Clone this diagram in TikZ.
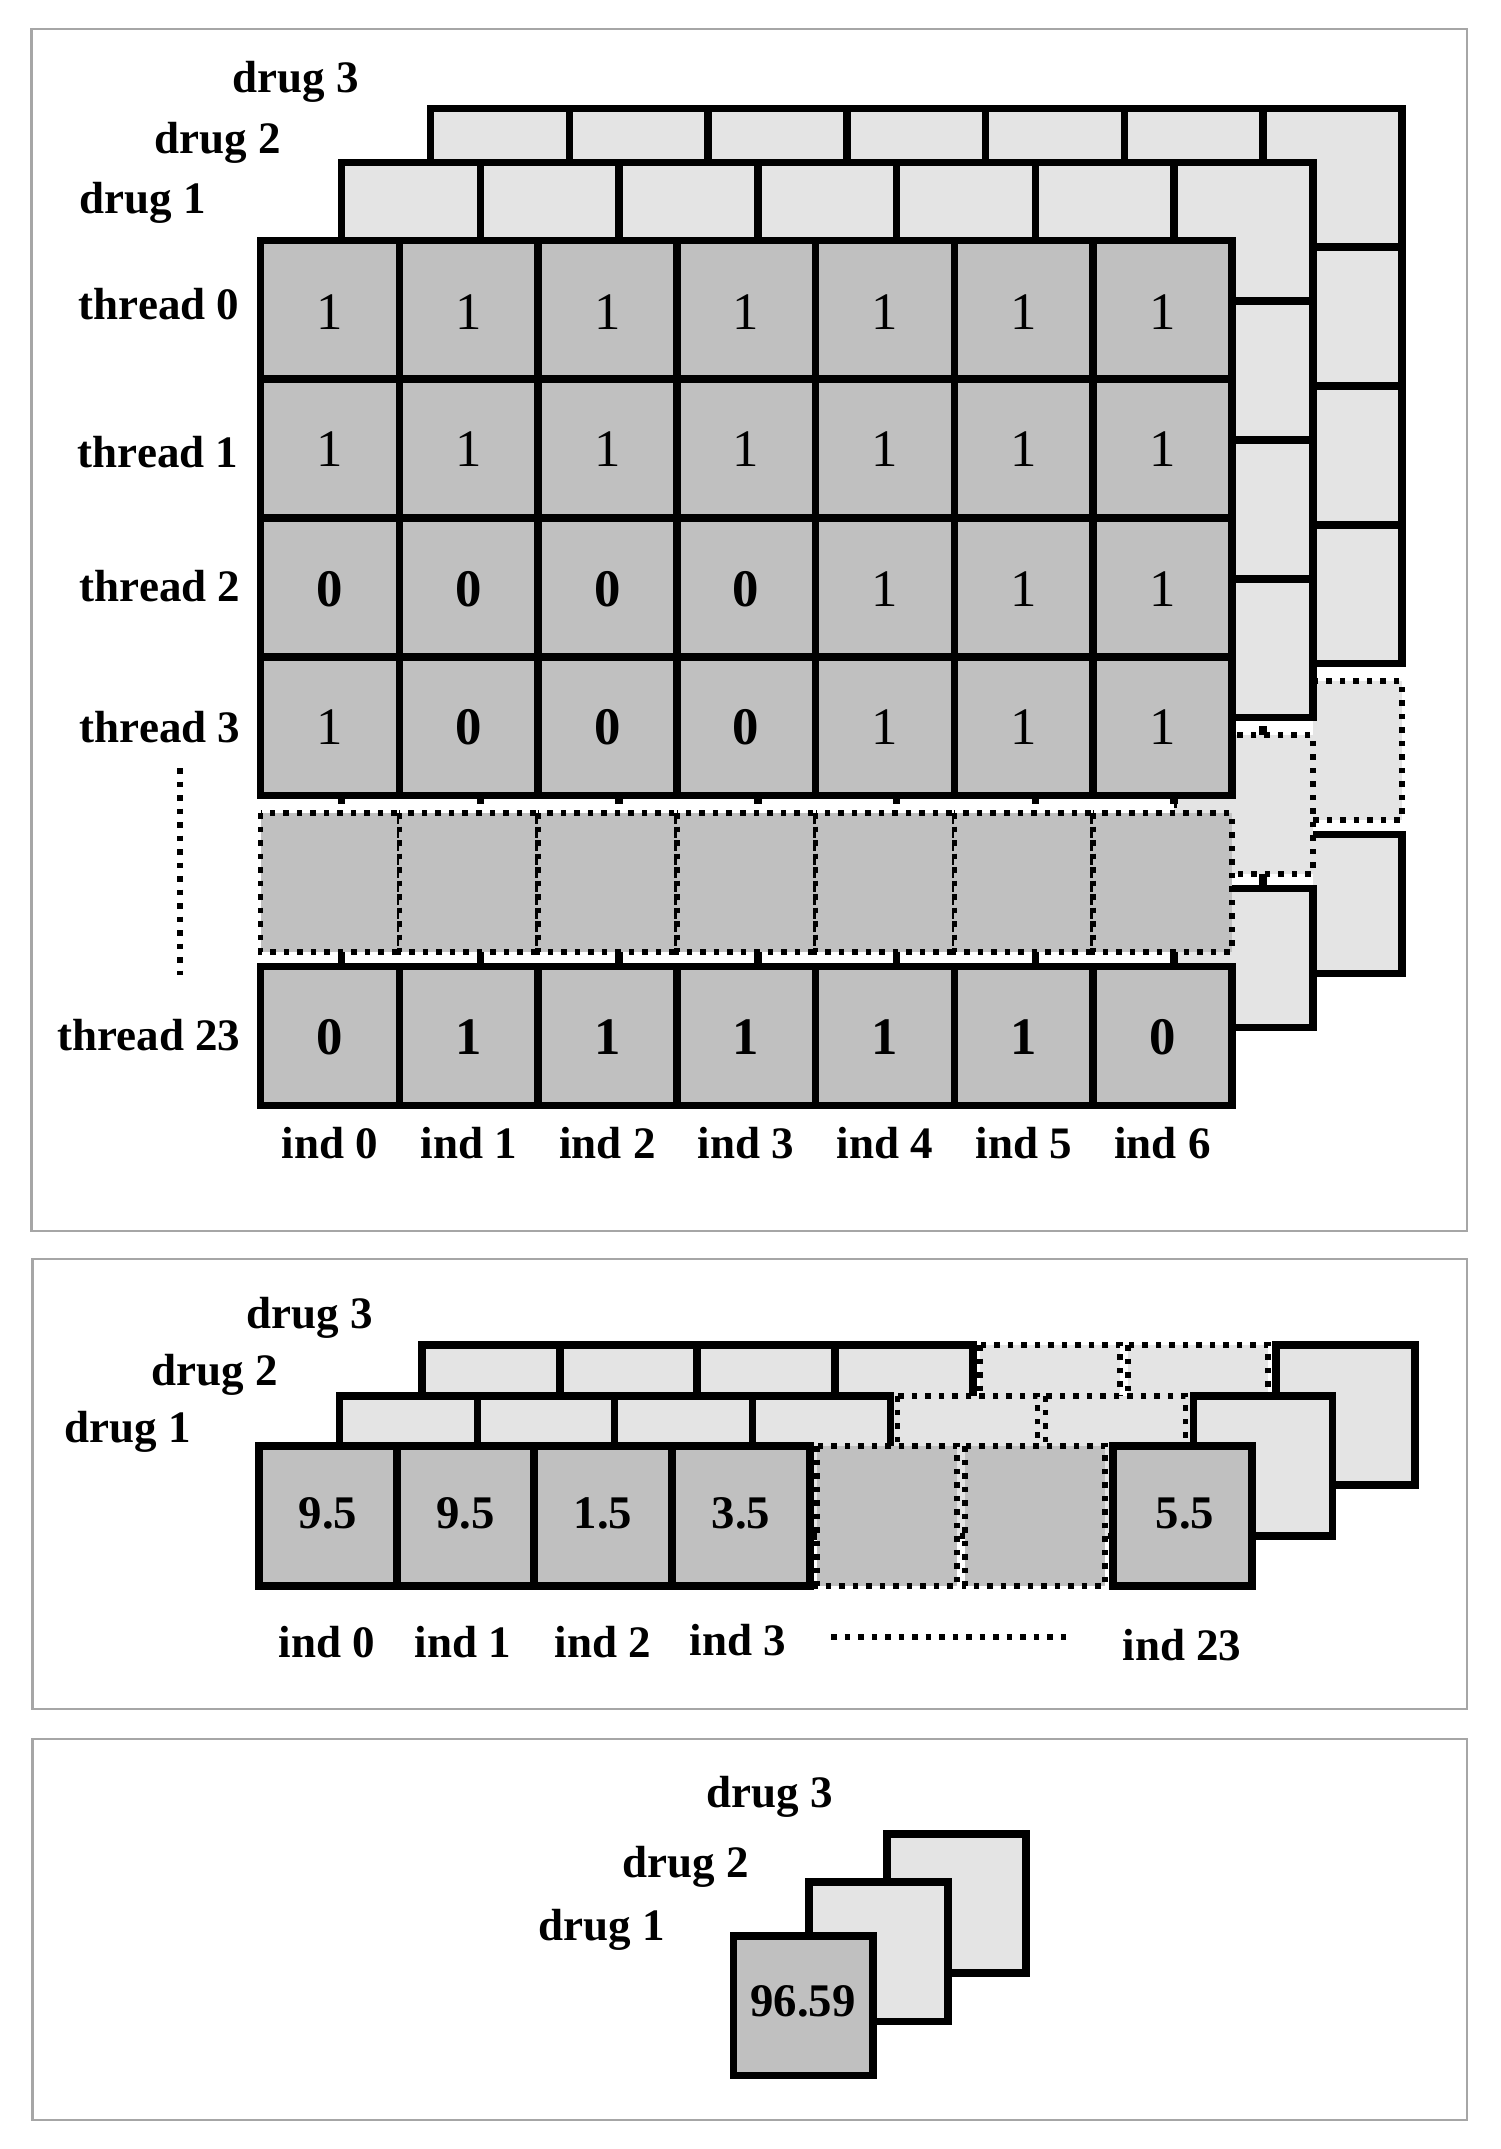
\documentclass[tikz,border=0pt]{standalone}
\usepackage{fontspec}
\setmainfont{Liberation Serif}
\definecolor{cdark}{RGB}{192,192,192}
\definecolor{clight}{RGB}{228,228,228}
\definecolor{cpanel}{RGB}{166,166,166}
\tikzset{
  solidcell/.style={draw=black,line width=0.075cm,line join=miter},
  dotcell/.style={draw=black,line width=0.055cm,dash pattern=on 0.055cm off 0.08cm},
  tickline/.style={draw=black,line width=0.075cm},
  dotline/.style={draw=black,line width=0.055cm,dash pattern=on 0.055cm off 0.08cm},
  panelbox/.style={draw=cpanel,line width=0.02cm},
  lbl/.style={inner sep=0pt,font=\fontsize{12.8pt}{15pt}\selectfont\bfseries},
  rnum/.style={inner sep=0pt,font=\fontsize{15pt}{17pt}\selectfont},
  bnum/.style={inner sep=0pt,font=\fontsize{15pt}{17pt}\selectfont\bfseries},
  vnum/.style={inner sep=0pt,font=\fontsize{13.3pt}{16pt}\selectfont\bfseries},
}
\begin{document}
\begin{tikzpicture}[x=0.01cm,y=-0.01cm]
\useasboundingbox (0,0) rectangle (1500,2149);
\fill[white] (0,0) rectangle (1500,2149);
% panels
\draw[panelbox] (31.5,29.5) rectangle (1467,1231);
\draw[panelbox] (32.5,1259) rectangle (1467,1708.5);
\draw[panelbox] (32.5,1738.5) rectangle (1467,2119.5);

% ================= TOP PANEL =================
% layer 3 (drug 3)
\fill[white] (430.5,108.5) rectangle (1401.75,973.25);
\foreach \ty in {240.5,379.25,518,656.75,966.5}
  \foreach \c in {0,...,6}
    \draw[solidcell,fill=clight] ({430.5+\c*138.75},{\ty-132}) rectangle ++(138.75,138.75);
\foreach \c in {0,...,6}
  \draw[dotcell,fill=clight] ({430.5+\c*138.75},681) rectangle ++(138.75,138.75);
% layer 2 (drug 2)
\fill[white] (341.5,162.5) rectangle (1312.75,1027.25);
\foreach \c in {0,...,6} {
  \draw[tickline] ({430.5+\c*138.75},726) -- ({430.5+\c*138.75},735);
  \draw[tickline] ({430.5+\c*138.75},873.75) -- ({430.5+\c*138.75},888.5);
}
\foreach \ty in {240.5,379.25,518,656.75,966.5}
  \foreach \c in {0,...,6}
    \draw[solidcell,fill=clight] ({341.5+\c*138.75},{\ty-78}) rectangle ++(138.75,138.75);
\foreach \c in {0,...,6}
  \draw[dotcell,fill=clight] ({341.5+\c*138.75},735) rectangle ++(138.75,138.75);
% front layer (drug 1)
\fill[white] (260.5,240.5) rectangle (1174.25,1105.25);
\foreach \c in {0,...,6} {
  \draw[tickline] ({341.5+\c*138.75},795.5) -- ({341.5+\c*138.75},804);
  \draw[tickline] ({341.5+\c*138.75},951.75) -- ({341.5+\c*138.75},966.5);
}
\foreach \ty in {240.5,379.25,518,656.75,966.5}
  \foreach \c in {0,...,6}
    \draw[solidcell,fill=cdark] ({260.5+\c*138.75},\ty) rectangle ++(138.75,138.75);
\foreach \c in {0,...,6}
  \draw[dotcell,fill=cdark] ({260.5+\c*138.75},813) rectangle ++(138.75,138.75);

% values
\foreach \v [count=\c from 0] in {1,1,1,1,1,1,1}
  \node[rnum] (ra\c) at ({329.9+\c*138.75},312) {\v};
\foreach \v [count=\c from 0] in {1,1,1,1,1,1,1}
  \node[rnum] (rb\c) at ({329.9+\c*138.75},449) {\v};
\foreach \v [count=\c from 0] in {\textbf{0},\textbf{0},\textbf{0},\textbf{0},1,1,1}
  \node[rnum] (rc\c) at ({329.9+\c*138.75},589) {\v};
\foreach \v [count=\c from 0] in {1,\textbf{0},\textbf{0},\textbf{0},1,1,1}
  \node[rnum] (rd\c) at ({329.9+\c*138.75},727) {\v};
\foreach \v [count=\c from 0] in {0,1,1,1,1,1,0}
  \node[bnum] (re\c) at ({329.9+\c*138.75},1037) {\v};

% row labels
\node[lbl,anchor=east] (th0) at (240,304) {thread 0};
\node[lbl,anchor=east] (th1) at (239,452) {thread 1};
\node[lbl,anchor=east] (th2) at (241,586) {thread 2};
\node[lbl,anchor=east] (th3) at (241,727) {thread 3};
\node[lbl,anchor=east] (th23) at (241,1035) {thread 23};
\coordinate (vd1) at (180,768);
\coordinate (vd2) at (180,975);
\draw[dotline] (vd1) -- (vd2);

% drug labels
\node[lbl] (ta3) at (296,82) {drug 3};
\node[lbl] (ta2) at (218,143) {drug 2};
\node[lbl] (ta1) at (142.6,203) {drug 1};

% ind labels
\foreach \c in {0,...,6}
  \node[lbl] (ti\c) at ({329.9+\c*138.75},1143) {ind \c};

% ================= MIDDLE PANEL =================
\foreach \dx/\dy/\fc in {163/-101/clight,80.5/-50/clight,0/0/cdark} {
  \foreach \a/\b in {259/397,397/534,534/672,672/810,1113/1252}
    \draw[solidcell,fill=\fc] ({\a+\dx},{1446+\dy}) rectangle ({\b+\dx},{1586+\dy});
  \foreach \a/\b in {817/957,965/1105}
    \draw[dotcell,fill=\fc] ({\a+\dx},{1446+\dy}) rectangle ({\b+\dx},{1586+\dy});
}
\node[vnum] (m0) at (328,1513) {9.5};
\node[vnum] (m1) at (465.5,1513) {9.5};
\node[vnum] (m2) at (603,1513) {1.5};
\node[vnum] (m3) at (741,1513) {3.5};
\node[vnum] (m23) at (1185,1514) {5.5};

\node[lbl] (md3) at (310,1318) {drug 3};
\node[lbl] (md2) at (215,1375) {drug 2};
\node[lbl] (md1) at (128,1432) {drug 1};

\node[lbl] (mi0) at (327,1642) {ind 0};
\node[lbl] (mi1) at (463,1642) {ind 1};
\node[lbl] (mi2) at (603,1642) {ind 2};
\node[lbl] (mi3) at (738,1640) {ind 3};
\node[lbl] (mi23) at (1182,1645) {ind 23};
\coordinate (hd1) at (831,1637);
\coordinate (hd2) at (1069,1637);
\draw[dotline] (hd1) -- (hd2);

% ================= BOTTOM PANEL =================
\draw[solidcell,fill=clight] (887,1834) rectangle (1026,1973);
\draw[solidcell,fill=clight] (809,1882) rectangle (948,2021.5);
\draw[solidcell,fill=cdark] (733.5,1936) rectangle (873,2075.5);
\node[vnum] (bv) at (803,2001) {96.59};
\node[lbl] (bd3) at (770,1797) {drug 3};
\node[lbl] (bd2) at (686,1867) {drug 2};
\node[lbl] (bd1) at (602,1930) {drug 1};
\end{tikzpicture}
\end{document}
